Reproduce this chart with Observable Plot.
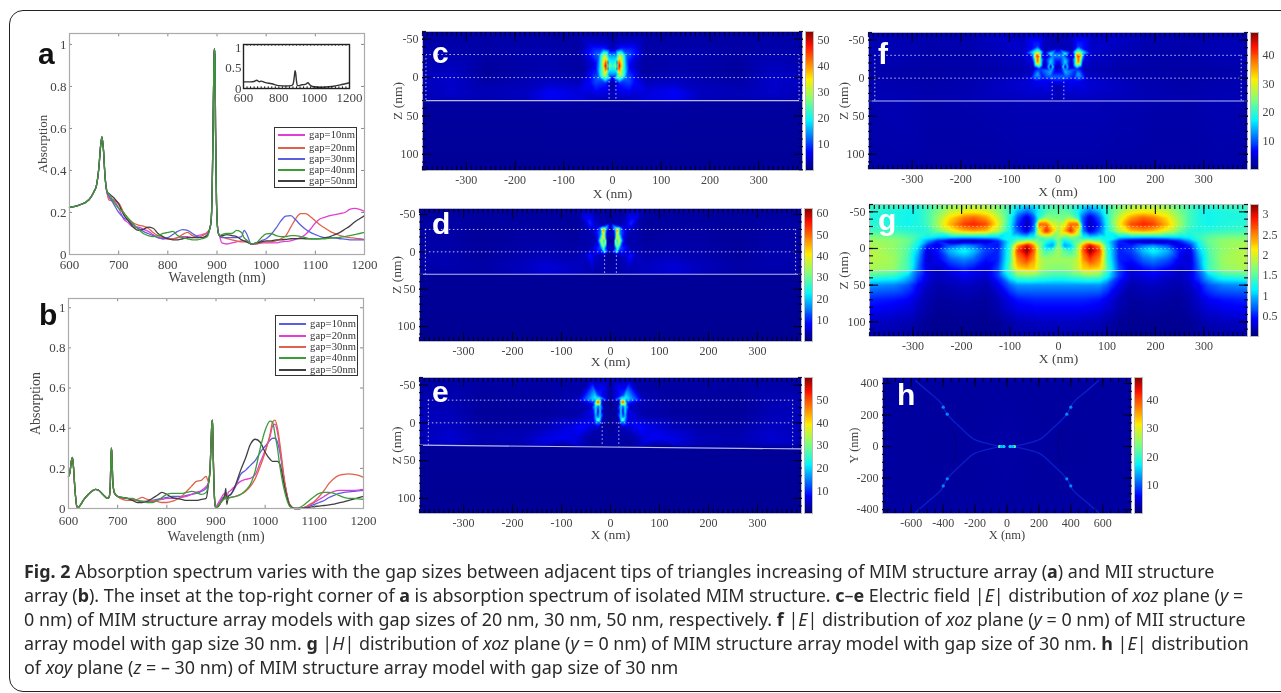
<!DOCTYPE html>
<html><head><meta charset="utf-8">
<script src="https://cdn.jsdelivr.net/npm/d3@7"></script>
<script src="https://cdn.jsdelivr.net/npm/@observablehq/plot@0.6"></script>
<style>
html,body{margin:0;padding:0;background:#fff;overflow:hidden}
#stage{position:relative;width:1281px;height:693px;filter:blur(.45px);overflow:hidden}
#box{position:absolute;left:9px;top:10px;width:1300px;height:682px;border:1.5px solid #222;border-radius:14px;box-sizing:border-box}
.letter{position:absolute;font:bold 30px/30px "Liberation Sans";}
.legend{position:absolute;background:#fff;border:1.5px solid #333;box-sizing:border-box}
.legend i{position:absolute;height:1.5px;display:block}
.legend span{position:absolute;font:10.6px/12px "Liberation Serif";color:#333;white-space:nowrap;letter-spacing:.1px}
.cap{position:absolute;left:24px;font:17.9px/24px "Noto Sans";color:#2a2a2a;white-space:nowrap}
</style></head><body><div id="stage"><div id="box"></div></div>
<script>
// ---------- spectra, panel a
const aHeadW=[600,620,640,650,655,660,663,666,669,672,676];
const aHead=[.225,.235,.262,.30,.33,.42,.51,.56,.50,.38,.30];
const midW=[680,690,700,710,720,730,740,750,760,770,780,790,800,810,820,830,840,850,860,870,880];
const a10mid=[.27,.26,.22,.17,.15,.13,.13,.12,.11,.095,.08,.075,.075,.075,.08,.085,.085,.08,.09,.095,.105];
const a20mid=[.26,.255,.245,.20,.17,.15,.14,.135,.125,.105,.09,.08,.075,.075,.08,.095,.105,.09,.08,.09,.105];
const a30mid=[.28,.24,.20,.175,.16,.14,.125,.11,.10,.09,.08,.075,.08,.095,.11,.118,.115,.10,.085,.08,.095];
const a40mid=[.29,.25,.22,.20,.17,.145,.12,.10,.09,.085,.09,.10,.105,.11,.09,.08,.075,.07,.07,.075,.085];
const a50mid=[.29,.27,.24,.19,.16,.13,.115,.12,.13,.125,.10,.085,.075,.07,.07,.075,.08,.08,.08,.08,.09];
const aPeakW=[885,888,890,892,894,895,896,897,899,902,905];
const aPeak=[.12,.16,.28,.6,.95,.98,.92,.6,.25,.11,.09];
const aTailW=[910,920,930,940,950,955,960,970,980,990,1000,1010,1020,1030,1040,1050,1060,1070,1080,1090,1100,1110,1120,1130,1140,1150,1160,1170,1180,1190,1200];
const a10tail=[.055,.05,.055,.06,.065,.065,.065,.048,.05,.055,.055,.055,.055,.06,.062,.065,.072,.08,.095,.12,.15,.17,.178,.185,.19,.195,.20,.215,.22,.215,.205];
const a20tail=[.085,.075,.07,.065,.06,.06,.06,.05,.052,.056,.06,.06,.065,.075,.09,.13,.17,.195,.195,.18,.16,.14,.125,.11,.10,.09,.085,.08,.078,.075,.072];
const a30tail=[.08,.08,.08,.08,.085,.115,.10,.05,.055,.065,.075,.095,.125,.16,.183,.185,.165,.14,.12,.105,.095,.085,.08,.08,.078,.075,.073,.07,.07,.07,.07];
const a40tail=[.095,.10,.10,.115,.105,.08,.07,.05,.055,.08,.098,.10,.09,.085,.085,.09,.09,.085,.08,.075,.075,.075,.075,.078,.08,.082,.085,.09,.095,.10,.105];
const a50tail=[.09,.095,.09,.085,.07,.065,.06,.05,.055,.06,.065,.065,.07,.07,.072,.075,.076,.076,.075,.075,.075,.076,.08,.085,.095,.105,.12,.135,.155,.17,.185];
// ---------- inset of panel a
const insetW=[600,640,660,675,690,700,720,760,800,840,870,880,888,892,896,900,905,915,930,950,965,975,990,1040,1100,1150,1200];
const insetV=[.16,.16,.17,.20,.165,.18,.15,.115,.07,.06,.07,.10,.30,.43,.35,.18,.07,.07,.09,.10,.14,.09,.05,.03,.05,.09,.14];
// ---------- spectra, panel b
const bHeadW=[600,603,606,608,610,613,617,620,625,630,640,650,655,660,670,680,683,685,687,688,690,692,695,700];
const bHead=[.16,.18,.24,.255,.21,.10,.01,.005,.02,.04,.07,.09,.095,.093,.07,.05,.06,.12,.3,.28,.14,.09,.07,.06];
const bMidW=[710,720,730,740,750,760,770,780,790,800,810,820,830,840,850,860,870,880];
const b10mid=[.05,.05,.045,.04,.035,.035,.04,.045,.05,.055,.06,.06,.06,.065,.07,.075,.085,.10];
const b20mid=[.05,.05,.045,.04,.035,.035,.035,.04,.045,.05,.05,.05,.055,.06,.07,.08,.09,.11];
const b30mid=[.045,.04,.04,.045,.055,.045,.04,.035,.03,.03,.035,.045,.06,.085,.11,.135,.14,.16];
const b40mid=[.055,.05,.05,.04,.035,.03,.03,.04,.055,.07,.075,.075,.075,.08,.085,.08,.07,.08];
const b50mid=[.055,.05,.04,.03,.03,.035,.05,.065,.08,.07,.055,.05,.045,.04,.04,.04,.045,.05];
const bPeakW=[885,888,890,892,893,895,897,899];
const bPeak=[.13,.2,.33,.44,.42,.2,.05,.005];
const bTailW=[905,910,915,918,920,922,925,930,940,950,960,970,980,990,1000,1010,1015,1020,1025,1030,1040,1050,1060,1070,1080,1090,1100,1110,1120,1130,1140,1150,1160,1170,1180,1190,1200];
const b10tail=[.02,.04,.055,.055,.07,.04,.06,.07,.11,.17,.19,.215,.24,.28,.31,.34,.35,.35,.33,.28,.12,.02,.0,.0,.005,.012,.02,.03,.04,.055,.065,.075,.08,.083,.085,.088,.09];
const b20tail=[.03,.05,.07,.075,.08,.05,.08,.09,.115,.135,.145,.15,.17,.23,.29,.36,.41,.42,.38,.30,.12,.02,.0,.0,.005,.015,.03,.045,.06,.075,.085,.09,.09,.09,.09,.092,.095];
const b30tail=[.015,.035,.045,.05,.06,.035,.05,.055,.06,.07,.085,.11,.15,.21,.28,.37,.43,.44,.40,.32,.13,.02,.0,.0,.005,.02,.035,.06,.09,.125,.15,.165,.17,.172,.17,.165,.155];
const b40tail=[.015,.03,.045,.05,.06,.04,.05,.055,.06,.07,.09,.12,.19,.30,.39,.435,.43,.37,.30,.21,.08,.01,.0,.005,.02,.04,.06,.075,.08,.08,.075,.065,.055,.05,.05,.048,.045];
const b50tail=[.01,.03,.05,.07,.10,.02,.06,.07,.12,.19,.25,.32,.345,.33,.28,.245,.235,.235,.235,.22,.10,.015,.0,.0,.003,.006,.01,.012,.015,.018,.022,.028,.033,.04,.047,.054,.06];
const gaps=["gap=10nm","gap=20nm","gap=30nm","gap=40nm","gap=50nm"];
const magenta="#e23fd2",orange="#e0614c",blue="#5a5ee0",green="#3d9c3a",dark="#3f3f3f";
const aColors=[magenta,orange,blue,green,dark];
const bColors=[blue,magenta,orange,green,dark];
// ---------- field maps: background grids (half width, mirrored) and hot spots [x,z,value]
const eCols=[70,130,180,260,330,390];
const eRows=[-60,-30,-10,5,20,29,31.5,121];
const cGrid=[[2,2,2,2,2,2],[2,2.5,2.5,2,2.5,2.5],[1.8,2.5,2.2,1.6,3.5,3],[3,3.5,2.8,2.2,4,3.5],[5,6.5,3.5,3,4,3],[5,6,3,2.5,3,2.5],[1.8,1.8,1.7,1.7,1.7,1.7],[1.3,1.3,1.3,1.3,1.3,1.3]];
const dGrid=[[2,2,2,2,2,2],[1.8,2.2,2.3,1.8,2.4,2.4],[2.2,2.6,2.4,1.7,2.5,2.5],[3,3.5,3,2,3,3],[4,5.5,4,2.5,3,2.5],[4,5,3.5,2.2,2.5,2.2],[1.6,1.6,1.6,1.6,1.6,1.6],[1.2,1.2,1.2,1.2,1.2,1.2]];
const eGrid=[[2.2,2.2,2.5,2.2,2.2,2.2],[3,2,2,1.8,3,3],[2.5,2,1.8,1.6,3.5,3.5],[7,3.5,2.5,2.5,4,3.5],[6,6,3.5,3,5,3.5],[5,5,3,2.5,4,3],[1.6,1.6,1.6,1.6,1.6,1.6],[1.2,1.2,1.2,1.2,1.2,1.2]];
const fGrid=[[3,3.5,2.5,2.2,2.5,2.5],[3.5,2.5,2,2,2.5,2.5],[2.5,2,2,1.8,2,2.2],[4,3,2.3,2,2.2,2.5],[3.5,3,2.5,2.2,2.5,2.5],[3,2.8,2.5,2.2,2.5,2.5],[2.6,2.4,2.2,2,2.5,2.3],[2,1.8,1.8,1.8,2,2]];
const cSpots=[[0,-60,2],[0,-45,2.5],[25,-45,4],[50,-45,4],[0,-15,22],[8,-15,28],[10,-15,8],[13,-15,52],[17,-15,40],[22,-15,25],[28,-15,14],[35,-15,6],[8,-28,15],[15,-28,32],[22,-28,24],[28,-30,12],[8,-5,15],[15,-4,32],[22,-3,24],[28,0,12],[5,-38,3],[20,-38,8],[35,-35,9],[45,-32,8],[55,-25,3],[0,5,1.5],[15,8,8],[35,6,10],[45,6,7],[60,-8,2],[0,29,2.5],[0,31.5,1.8],[0,121,1.3],[35,29,3.5],[35,31.5,1.8],[35,121,1.3]];
const dSpots=[[0,-60,2],[0,-40,1.5],[0,-30,1.5],[0,-15,1.5],[0,0,1.5],[0,10,1.5],[0,29,2.5],[0,31.5,1.6],[0,121,1.2],[35,29,3],[35,31.5,1.6],[35,121,1.2],[35,-60,2],[7,-15,3],[10,-15,38],[14,-15,18],[18,-15,40],[22,-15,22],[25,-15,12],[28,-15,6],[32,-15,3],[14,-22,40],[14,-6,30],[14,-29,52],[10,-32,22],[18,-32,22],[14,-2,25],[14,-36,3],[8,-25,5],[8,-5,5],[20,-25,14],[20,-5,12],[42,-38,10],[30,-35,5],[50,-35,4],[35,-28,4],[45,-28,3],[25,-32,8],[42,5,9],[32,5,5],[52,5,4],[42,-5,3],[14,5,3]];
const eSpots=[[0,-60,2.2],[0,-30,1.5],[0,-15,1.5],[0,0,1.5],[0,29,2.5],[0,33,1.6],[0,121,1.2],[40,33,1.6],[40,121,1.2],[40,-60,2.2],[12,-15,2],[17,-15,3],[21,-30,14],[21,-22,20],[21,-15,22],[21,-8,20],[21,-2,16],[30,-30,18],[30,-22,22],[30,-15,22],[30,-8,18],[30,-2,14],[25,-22,12],[25,-15,5],[25,-8,12],[25,-28,55],[22,-33,20],[30,-33,22],[25,-37,10],[25,-3,30],[35,-25,8],[35,-15,7],[35,-5,6],[40,-20,4],[35,5,5],[25,8,3],[17,-28,3],[17,-3,3],[60,6,8],[80,6,6],[100,20,7],[50,20,3]];
const fSpots=[[0,-60,2.5],[0,-40,2.5],[0,-15,2],[0,10,2.5],[0,31.5,2.6],[0,121,2],[30,-60,3],[30,121,2],[42,-28,42],[38,-30,38],[46,-30,38],[42,-22,40],[36,-25,20],[48,-25,20],[36,-34,20],[48,-34,20],[42,-36,20],[42,-42,8],[33,-28,6],[52,-28,10],[58,-30,5],[70,-33,3.5],[15,-15,3],[15,-22,16],[15,-8,14],[10,-15,18],[20,-15,16],[15,-32,18],[10,-30,12],[20,-29,6],[5,-15,2],[24,-15,4],[42,-5,14],[45,2,8],[42,5,5],[38,-12,8],[30,2,6],[15,-2,10],[60,2,4],[30,-15,3],[28,-25,3],[28,-35,3],[50,-14,3]];
// ---------- panel g |H| map
const gCols=[0,12,25,40,50,65,85,100,125,150,175,195,225,250,270,290,310,340,390];
const gRows=[-60,-50,-42,-33,-24,-15,-10,-4,3,15,28,38,50,70,100,121];
const gGrid=[
[1.45,1.45,1.4,1.3,1.2,1.1,1.2,1.4,1.6,1.75,1.8,1.8,1.7,1.55,1.45,1.35,1.35,1.4,1.4],
[1.5,1.5,1.4,1.2,.95,.7,.95,1.3,1.7,2.0,2.1,2.05,1.9,1.6,1.4,1.25,1.2,1.25,1.3],
[1.6,1.6,1.7,1.3,.7,.3,.7,1.25,1.9,2.4,2.6,2.5,2.15,1.7,1.4,1.25,1.2,1.25,1.25],
[1.8,2.0,2.6,2.6,.7,.15,.55,1.2,2.05,2.7,2.85,2.75,2.3,1.75,1.4,1.25,1.2,1.25,1.3],
[1.75,2.3,2.85,2.1,.8,.3,.7,1.2,1.85,2.3,2.4,2.3,1.95,1.55,1.3,1.25,1.3,1.35,1.4],
[1.7,1.5,1.6,1.45,1.2,1.1,1.2,1.2,1.05,1.0,.95,.95,1.0,1.05,1.15,1.35,1.5,1.6,1.65],
[1.65,1.1,1.3,1.5,1.7,1.85,1.6,1.2,.5,.22,.15,.15,.22,.5,.85,1.25,1.55,1.7,1.75],
[1.7,.85,1.0,1.7,2.4,3.0,2.4,1.3,.45,.5,.75,.85,.65,.3,.5,1.15,1.5,1.7,1.8],
[1.75,1.5,1.35,1.8,2.6,3.25,2.7,1.35,.5,.6,1.0,1.2,.95,.45,.3,1.0,1.45,1.7,1.85],
[1.75,1.75,1.75,1.9,2.4,2.75,2.45,1.4,.5,.45,.7,.8,.65,.35,.25,.85,1.4,1.75,1.85],
[1.65,1.65,1.7,1.9,2.2,2.25,2.15,1.5,.6,.3,.42,.5,.38,.22,.3,.75,1.4,1.7,1.8],
[1.35,1.35,1.4,1.45,1.5,1.55,1.5,1.2,.55,.25,.3,.35,.25,.2,.3,.6,1.0,1.3,1.4],
[.85,.85,.85,.85,.85,.85,.85,.7,.35,.15,.2,.22,.18,.15,.22,.4,.65,.8,.85],
[.5,.5,.5,.5,.5,.48,.45,.35,.18,.1,.12,.13,.11,.1,.15,.25,.38,.45,.5],
[.22,.22,.22,.22,.2,.2,.18,.14,.08,.06,.07,.07,.06,.06,.08,.12,.17,.2,.22],
[.14,.14,.14,.14,.14,.13,.12,.1,.06,.05,.05,.05,.05,.05,.06,.09,.12,.13,.14]];
// ---------- panel h
const hBackdrop=[[0,440,1.6],[781,440,1.6],[0,0,1.8],[781,0,1.6],[0,-430,1.6],[781,-430,1.6],[400,0,1.4]];
const hArc=[[60,4],[120,18],[208,47],[292,121],[375,205],[417,280],[500,353],[573,417]];
const hDark=[[345,110],[325,55],[318,0]];
const hDots=[[375,205,12],[400,250,12],[46,0,22],[20,0,15],[35,0,14]];
// ---------- axes and colour bars
const wlTicks=[600,700,800,900,1000,1100,1200];
const absTicks=[0,.2,.4,.6,.8,1];
const xnmTicks=[-300,-200,-100,0,100,200,300];
const znmTicks=[-50,0,50,100];
const hxTicks=[-600,-400,-200,0,200,400,600];
const hyTicks=[-400,-200,0,200,400];
const jetStops=[0,.11,.125,.35,.5,.65,.89,1];
const jetColors=["#00007f","#0000ee","#0000ff","#00f5ff","#7dff7d","#ffee00","#ff1100","#7f0000"];
const cBar=[10,20,30,40,50],dBar=[10,20,30,40,50,60],eBar=[10,20,30,40,50],fBar=[10,20,30,40],gBar=[.5,1,1.5,2,2.5,3],hBar=[10,20,30,40];

const stage=document.getElementById("stage");
const serif="Liberation Serif",ink="#444";
function place(n,l,t){n.style.position="absolute";n.style.left=l+"px";n.style.top=t+"px";stage.append(n);return n}
const jetScale=m=>({type:"linear",domain:jetStops.map(s=>s*m),range:jetColors,clamp:true});
const mirror=r=>r.flatMap(([x,z,v])=>x===0?[{x,z,v}]:[{x,z,v},{x:-x,z,v}]);
const grid=(cols,rows,m)=>rows.flatMap((z,i)=>cols.map((x,j)=>[x,z,m[i][j]]));
const collect=(...arrs)=>arrs.flat();

function spectrum(f,yTop,series,colors,order,label){
  const ml=50,mb=40,mt=3,mr=8;
  const W=f.r-f.l,H=f.b-f.t;
  const marks=[];
  order.forEach(i=>marks.push(Plot.line(series[i],{x:"w",y:"v",stroke:colors[i],strokeWidth:1.3,curve:"monotone-x"})));
  marks.push(Plot.ruleX(wlTicks,{y1:0,y2:.016,stroke:"#888"}),Plot.ruleX(wlTicks,{y1:yTop,y2:yTop-.016,stroke:"#888"}),
    Plot.ruleY(absTicks,{x1:600,x2:606,stroke:"#888"}),Plot.ruleY(absTicks,{x1:1200,x2:1194,stroke:"#888"}),
    Plot.frame({stroke:"#aaa",strokeWidth:1.2}),
    Plot.axisX({ticks:wlTicks,tickSize:0,tickPadding:label.xp,tickFormat:d=>String(d),label:null}),
    Plot.axisY({ticks:absTicks,tickSize:0,tickPadding:3,tickFormat:d=>String(d),label:null}),
    Plot.text(["Wavelength (nm)"],{frameAnchor:"bottom",dy:label.xo,lineAnchor:"middle",fontSize:14}),
    Plot.text(["Absorption"],{frameAnchor:"left",dx:label.yo,rotate:-90,textAnchor:"middle",lineAnchor:"middle",fontSize:label.ys}));
  const p=Plot.plot({width:W+ml+mr,height:H+mt+mb,marginLeft:ml,marginRight:mr,marginTop:mt,marginBottom:mb,
    style:{background:"transparent",fontFamily:serif,fontSize:label.fs+"px",color:ink,overflow:"visible"},
    x:{domain:[600,1200]},y:{domain:[0,yTop]},marks});
  place(p,f.l-ml,f.t-mt);
}
function legend(f,colors,rows){
  const d=document.createElement("div");d.className="legend";
  d.style.cssText=`left:${f.l}px;top:${f.t}px;width:${f.r-f.l}px;height:${f.b-f.t}px`;
  gaps.forEach((g,i)=>{const l=document.createElement("i");l.style.cssText=`left:3px;width:27px;top:${rows[i]-f.t-2}px;background:${colors[i]}`;
    const s=document.createElement("span");s.textContent=g;s.style.cssText=`left:34px;top:${rows[i]-f.t-7}px`;d.append(l,s)});
  stage.append(d);
}
function heat(o){
  const {f,xd,zd,data,max,bar,dash}=o;
  const ml=50,mb=44,mt=3,mr=3;
  const W=f.r-f.l,H=f.b-f.t;
  const xs=o.xs||10,ys=o.ys||10;
  const zLo=Math.min(...zd),zHi=Math.max(...zd);
  const xMinor=d3.range(Math.ceil(xd[0]/xs)*xs,xd[1],xs),zMinor=d3.range(Math.ceil(zLo/ys)*ys,zHi,ys);
  const xMajor=o.xt,zMajor=o.zt;
  const tick="#000020";
  const marks=[Plot.raster(data,{x:"x",y:"z",fill:"v",interpolate:"barycentric",pixelSize:1})];
  if(o.extra)marks.push(...o.extra);
  if(dash){
    const ds={stroke:"#fff",strokeOpacity:dash.op??.75,strokeWidth:1,strokeDasharray:"1.5,2.5"};
    const zB=dash.line?(x=>dash.line[0][1]+(x-dash.line[0][0])*(dash.line[1][1]-dash.line[0][1])/(dash.line[1][0]-dash.line[0][0])):(()=>30);
    marks.push(Plot.ruleY([-30,0],{x1:-dash.w,x2:dash.w,...ds}));
    if(dash.v!==false)marks.push(
      Plot.ruleX([-dash.w,dash.w],{y1:-30,y2:x=>zB(x),...ds}),
      Plot.ruleX([-dash.g,dash.g],{y1:0,y2:x=>zB(x),...ds}));
    marks.push(Plot.line(dash.line||[[-390,30],[390,30]],{stroke:"#d8d8ff",strokeOpacity:.85,strokeWidth:1.2}));
  }
  const none=()=>"";
  const axOpts={stroke:tick,strokeWidth:1.2,strokeOpacity:.9,tickFormat:none,label:null};
  marks.push(
    Plot.frame({stroke:"#bbb",strokeWidth:1}),
    Plot.axisX({anchor:"top",ticks:xMinor,tickSize:-4,...axOpts}),
    Plot.axisX({anchor:"bottom",ticks:xMinor,tickSize:-4,...axOpts}),
    Plot.axisX({anchor:"top",ticks:xMajor,tickSize:-9,...axOpts}),
    Plot.axisX({anchor:"bottom",ticks:xMajor,tickSize:-9,...axOpts}),
    Plot.axisY({anchor:"left",ticks:zMinor,tickSize:-4,...axOpts}),
    Plot.axisY({anchor:"right",ticks:zMinor,tickSize:-4,...axOpts}),
    Plot.axisY({anchor:"left",ticks:zMajor,tickSize:-9,...axOpts}),
    Plot.axisY({anchor:"right",ticks:zMajor,tickSize:-9,...axOpts}),
    Plot.axisX({ticks:xMajor,tickSize:0,tickPadding:5,tickFormat:d=>String(d),label:null}),
    Plot.axisY({ticks:zMajor,tickSize:0,tickPadding:4,tickFormat:d=>String(d),label:null}),
    Plot.text(["X (nm)"],{frameAnchor:"bottom",dy:o.xo??23,lineAnchor:"middle",fontSize:o.lf??13.5}),
    Plot.text([o.yl||"Z (nm)"],{frameAnchor:"left",dx:-(o.yo??25),rotate:-90,textAnchor:"middle",lineAnchor:"middle",fontSize:o.lf??13.5}));
  const p=Plot.plot({width:W+ml+mr,height:H+mt+mb,marginLeft:ml,marginRight:mr,marginTop:mt,marginBottom:mb,
    style:{background:"transparent",fontFamily:serif,fontSize:"12px",color:ink,overflow:"visible"},
    x:{domain:xd},y:{domain:zd},color:jetScale(max),marks});
  place(p,f.l-ml,f.t-mt);
  // colour bar
  const levels=d3.range(0,max,max/140);
  const cb=Plot.plot({width:8+24,height:H,marginLeft:0,marginRight:24,marginTop:0,marginBottom:0,
    style:{background:"transparent",fontFamily:serif,fontSize:"12px",color:ink,overflow:"visible"},
    x:{domain:[0,1],axis:null},y:{domain:[0,max]},color:jetScale(max),
    marks:[Plot.rect(levels,{x1:0,x2:1,y1:d=>d,y2:d=>d+max/140,fill:d=>d,shapeRendering:"crispEdges"}),
      Plot.frame({stroke:"#bbb"}),
      Plot.axisY({anchor:"right",ticks:bar,tickSize:0,tickPadding:4,tickFormat:d=>String(d),label:null})]});
  place(cb,f.r+3,f.t);
}
function letter(t,l,base,col){const d=document.createElement("div");d.className="letter";d.textContent=t;d.style.cssText=`left:${l}px;top:${base-25.4}px;color:${col}`;stage.append(d)}

// panel a
const aW=[...aHeadW,...midW,...aPeakW,...aTailW];
const aSeries=[[a10mid,a10tail],[a20mid,a20tail],[a30mid,a30tail],[a40mid,a40tail],[a50mid,a50tail]]
  .map(([m,t])=>{const v=[...aHead,...m,...aPeak,...t];return aW.map((w,k)=>({w,v:v[k]}))});
spectrum({l:69,r:364,t:33,b:254},1.052,aSeries,aColors,[0,1,2,4,3],{fs:13,xp:5,xo:23,yo:-27,ys:13});
// inset
place(Plot.plot({width:106+26+38,height:44+2+26,marginLeft:26,marginRight:38,marginTop:2,marginBottom:26,
  style:{background:"transparent",fontFamily:serif,fontSize:"13px",color:ink,overflow:"visible"},
  x:{domain:[600,1200]},y:{domain:[0,1.07]},
  marks:[Plot.line(insetW.map((w,i)=>({w,v:insetV[i]})),{x:"w",y:"v",stroke:"#333",strokeWidth:1.4,curve:"monotone-x"}),
    Plot.ruleX(d3.range(600,1201,20),{y1:0,y2:.04,stroke:"#111"}),Plot.ruleX(d3.range(600,1201,20),{y1:1.07,y2:1.03,stroke:"#111"}),
    Plot.frame({stroke:"#222",strokeWidth:1.4}),
    Plot.axisX({ticks:[600,800,1000,1200],tickSize:0,tickPadding:4,tickFormat:d=>String(d),label:null}),
    Plot.axisY({ticks:[0,.5,1],tickSize:0,tickPadding:2,tickFormat:d=>String(d),label:null})]}),243-26,44-2);
legend({l:274,r:357,t:127,b:188},aColors,[135,148,159,170,181]);
// panel b
const bW=[...bHeadW,...bMidW,...bPeakW,...bTailW];
const bSeries=[[b10mid,b10tail],[b20mid,b20tail],[b30mid,b30tail],[b40mid,b40tail],[b50mid,b50tail]]
  .map(([m,t])=>{const v=[...bHead,...m,...bPeak,...t];return bW.map((w,k)=>({w,v:v[k]}))});
spectrum({l:68,r:363,t:298,b:508},1.046,bSeries,bColors,[0,1,2,4,3],{fs:13,xp:7,xo:28,yo:-33,ys:14});
legend({l:275,r:358,t:315,b:376},bColors,[324,336,347,358,370]);

// field maps
const eData=(g,s)=>mirror(collect(grid(eCols,eRows,g),s));
heat({f:{l:422,r:802,t:31,b:170},xd:[-390,390],zd:[121,-60],data:eData(cGrid,cSpots),max:53.5,bar:cBar,xt:xnmTicks,zt:znmTicks,dash:{w:383,g:7},xo:23,yo:25});
heat({f:{l:419,r:801,t:208,b:341},xd:[-390,390],zd:[120,-58],data:eData(dGrid,dSpots),max:62.3,bar:dBar,xt:xnmTicks,zt:znmTicks,dash:{w:378,g:12},xo:20,yo:23});
heat({f:{l:419,r:801,t:377,b:513},xd:[-390,390],zd:[120,-60],data:eData(eGrid,eSpots),max:60,bar:eBar,xt:xnmTicks,zt:znmTicks,dash:{w:372,g:17,line:[[-390,29.5],[390,34.5]]},xo:21,yo:23});
heat({f:{l:868,r:1247,t:32,b:169},xd:[-390,390],zd:[120,-60],data:eData(fGrid,fSpots),max:48,bar:fBar,xt:xnmTicks,zt:znmTicks,dash:{w:377,g:12},xo:22,yo:25});
heat({f:{l:869,r:1247,t:204,b:336},xd:[-390,390],zd:[120,-60],data:mirror(grid(gCols,gRows,gGrid)),max:3.25,bar:gBar,xt:xnmTicks,zt:znmTicks,dash:{w:383,g:12,v:false,op:.45},xo:22,yo:26});
// panel h
const fourfold=r=>r.flatMap(([x,y,...rest])=>[[x,y,...rest],[-x,y,...rest],[x,-y,...rest],[-x,-y,...rest]]);
const arcStyle={stroke:"#1030e0",strokeWidth:1.4,strokeOpacity:.6,curve:"catmull-rom"};
const darkStyle={stroke:"#00006a",strokeWidth:1,strokeOpacity:.6};
const hExtra=[
  Plot.line(hArc,arcStyle),
  Plot.line(hArc.map(([x,y])=>[-x,y]),arcStyle),
  Plot.line(hArc.map(([x,y])=>[x,-y]),arcStyle),
  Plot.line(hArc.map(([x,y])=>[-x,-y]),arcStyle),
  Plot.line(hDark,darkStyle),Plot.line(hDark.map(([x,y])=>[-x,y]),darkStyle),
  Plot.line(hDark.map(([x,y])=>[x,-y]),darkStyle),Plot.line(hDark.map(([x,y])=>[-x,-y]),darkStyle),
  Plot.dot(fourfold(hDots),{x:d=>d[0],y:d=>d[1],fill:d=>d[2],r:1.6,stroke:null})
];
heat({f:{l:882,r:1131,t:377,b:513},xd:[-781,781],zd:[-425,438],data:mirror(collect(hBackdrop)).flatMap(d=>[d,{...d,z:-d.z}]),max:48,bar:hBar,xt:hxTicks,zt:hyTicks,xs:50,ys:50,yl:"Y (nm)",extra:hExtra,xo:21,yo:29,lf:12.5});

// panel letters
letter("a",38,64,"#111");letter("b",39,325,"#111");
letter("c",432,63,"#fff");letter("d",432,234,"#fff");letter("e",432,402,"#fff");
letter("f",878,64,"#fff");letter("g",878,230,"#fff");letter("h",897,405,"#fff");

// caption
const capLines=[
 [559,'<b>Fig. 2</b> Absorption spectrum varies with the gap sizes between adjacent tips of triangles increasing of MIM structure array (<b>a</b>) and MII structure'],
 [583,'array (<b>b</b>). The inset at the top-right corner of <b>a</b> is absorption spectrum of isolated MIM structure. <b>c</b>–<b>e</b> Electric field |<i>E</i>| distribution of <i>xoz</i> plane (<i>y</i> ='],
 [607,'0 nm) of MIM structure array models with gap sizes of 20 nm, 30 nm, 50 nm, respectively. <b>f</b> |<i>E</i>| distribution of <i>xoz</i> plane (<i>y</i> = 0 nm) of MII structure'],
 [631,'array model with gap size 30 nm. <b>g</b> |<i>H</i>| distribution of <i>xoz</i> plane (<i>y</i> = 0 nm) of MIM structure array model with gap size of 30 nm. <b>h</b> |<i>E</i>| distribution'],
 [655,'of <i>xoy</i> plane (<i>z</i> = – 30 nm) of MIM structure array model with gap size of 30 nm']];
capLines.forEach(([t,h])=>{const d=document.createElement("div");d.className="cap";d.style.top=t+"px";d.innerHTML=h;stage.append(d)});
</script></body></html>
